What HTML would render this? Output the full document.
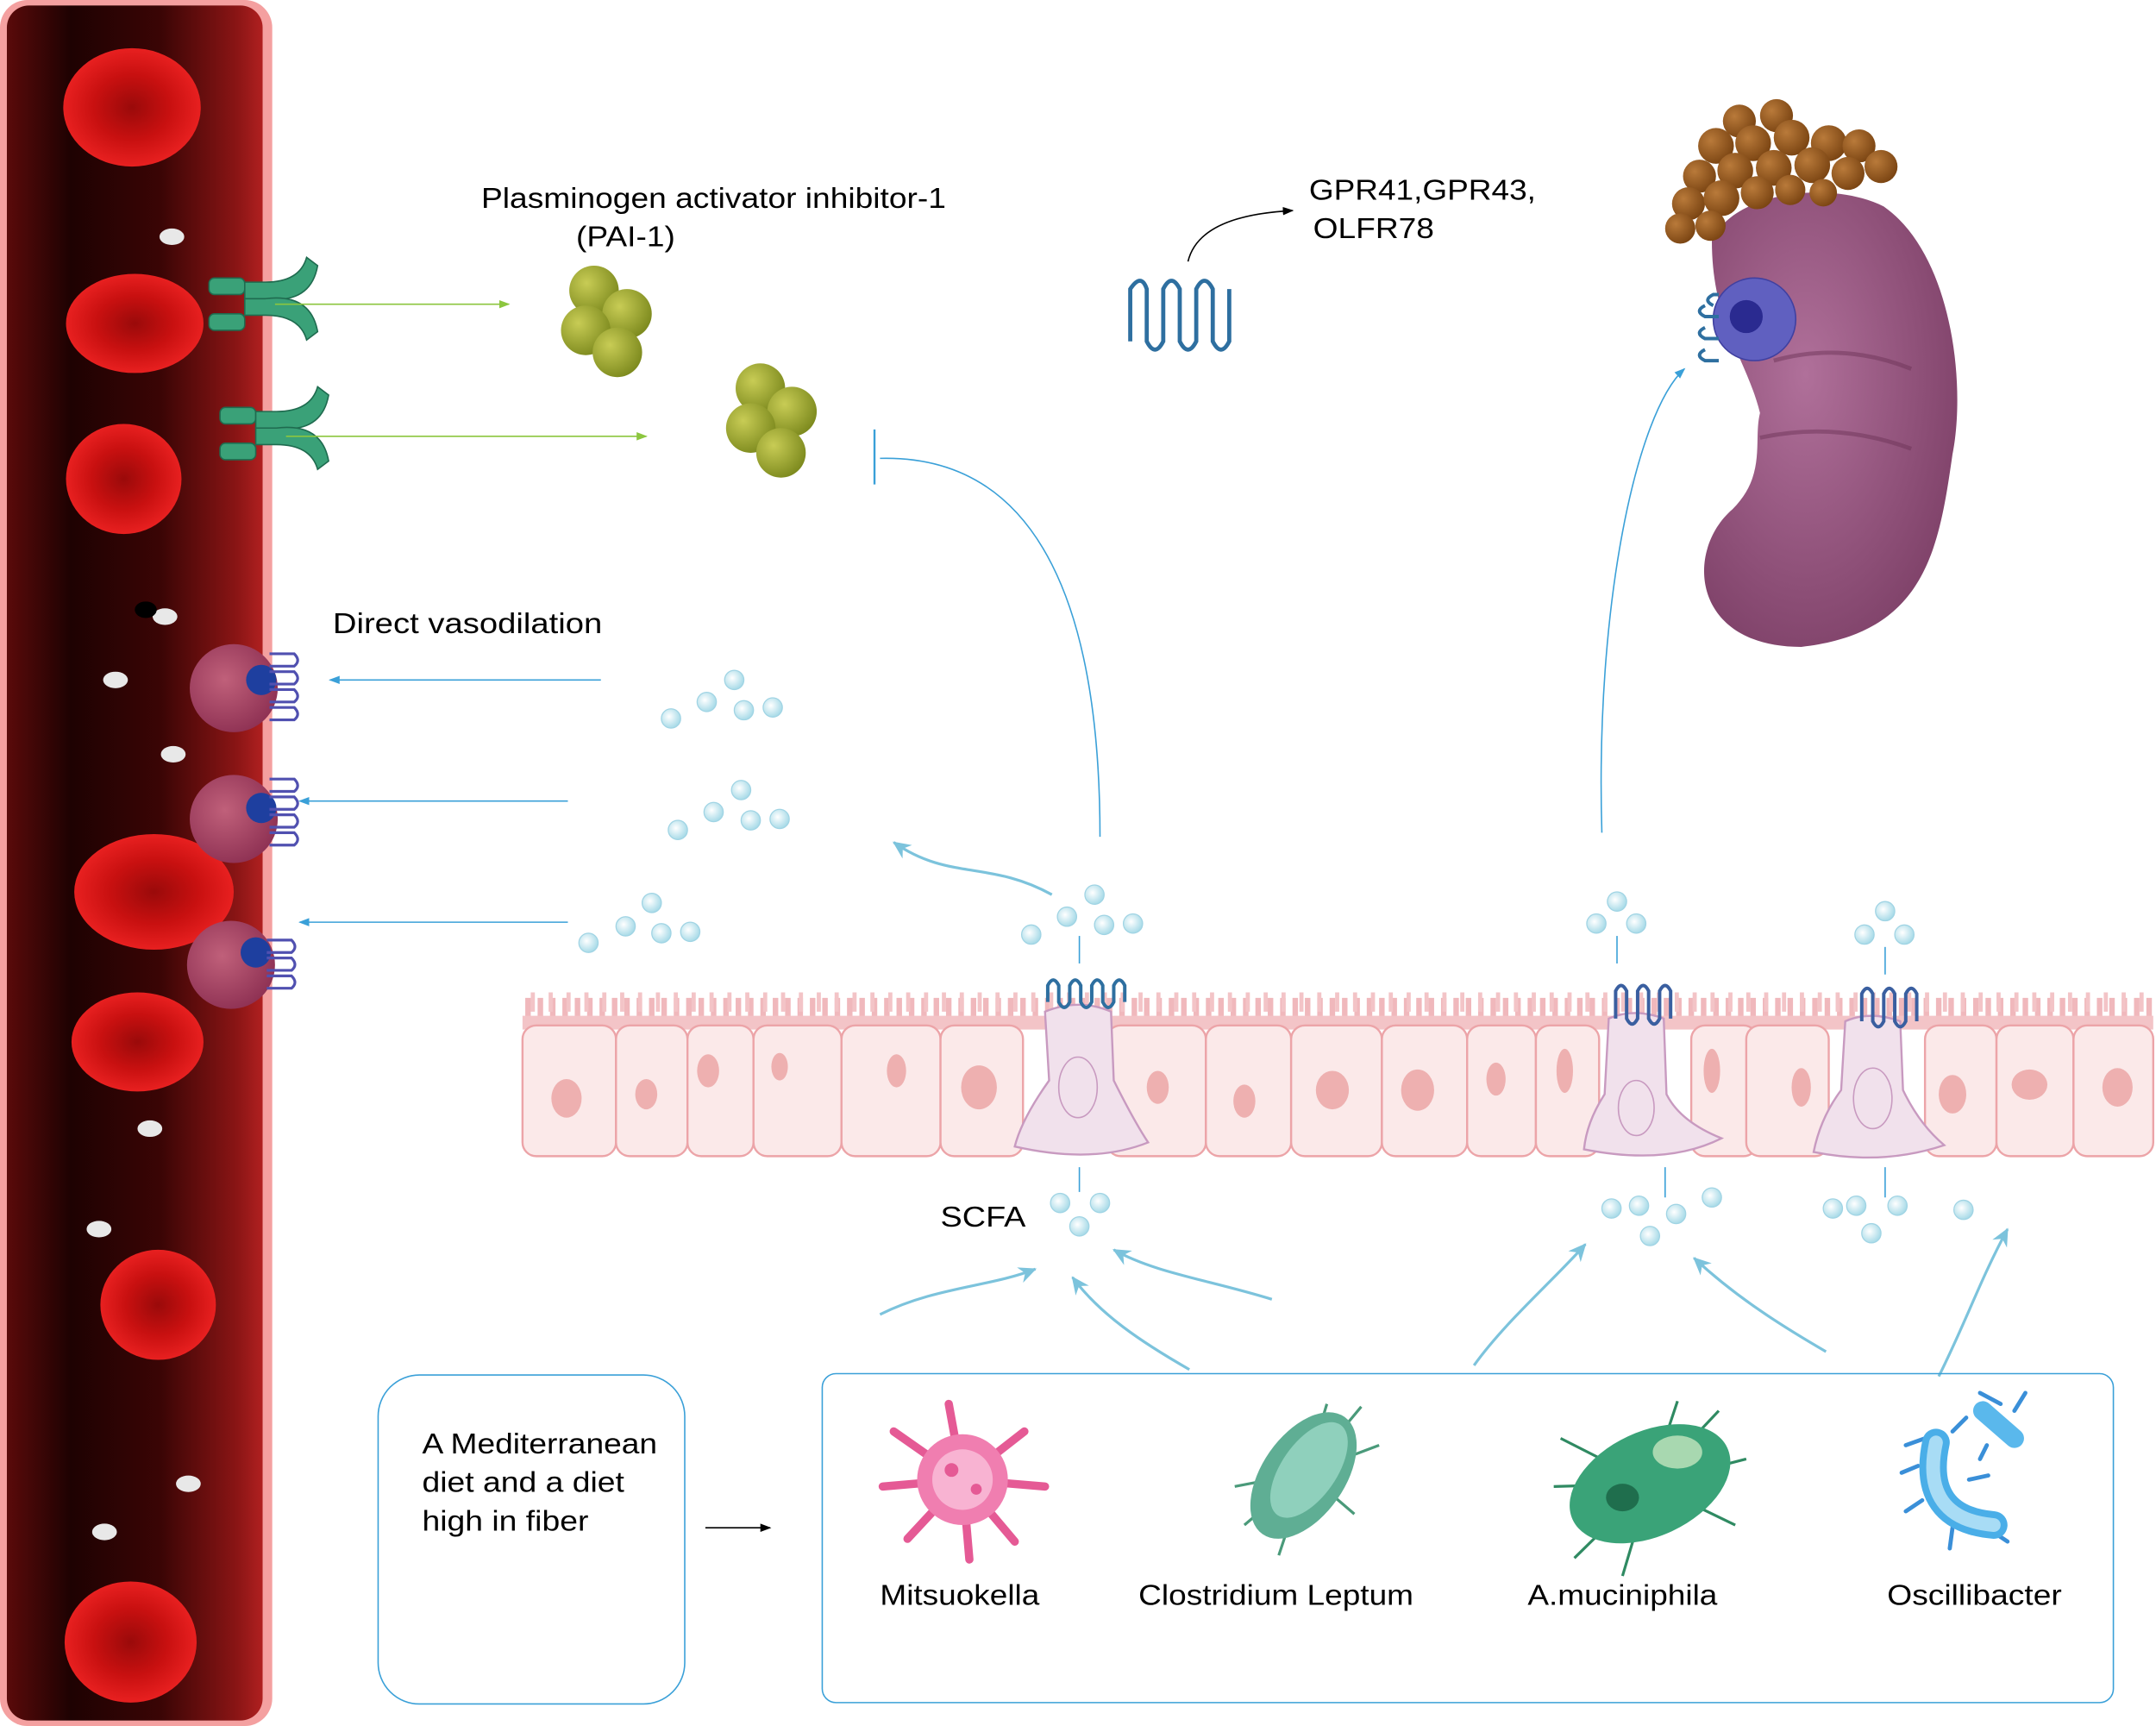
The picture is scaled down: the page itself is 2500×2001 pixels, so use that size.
<!DOCTYPE html>
<html><head><meta charset="utf-8"><style>
html,body{margin:0;padding:0;background:#fff;}
svg{display:block;}
text{font-family:"Liberation Sans",Arial,sans-serif;fill:#000;}
</style></head><body>
<svg width="2500" height="2001" viewBox="0 0 1568 1254" preserveAspectRatio="none" xmlns="http://www.w3.org/2000/svg">
<defs>
<linearGradient id="vessel" x1="0" x2="1" y1="0" y2="0">
<stop offset="0" stop-color="#5a0a0a"/><stop offset="0.25" stop-color="#1e0202"/><stop offset="0.6" stop-color="#3a0505"/><stop offset="0.9" stop-color="#8a1515"/><stop offset="1" stop-color="#b02020"/>
</linearGradient>
<radialGradient id="rbc" cx="0.5" cy="0.5" r="0.5">
<stop offset="0" stop-color="#9a0a0a"/><stop offset="0.55" stop-color="#c81010"/><stop offset="1" stop-color="#e82020"/>
</radialGradient>
<radialGradient id="kid" cx="0.4" cy="0.4" r="0.7">
<stop offset="0" stop-color="#b0709a"/><stop offset="1" stop-color="#7c3f66"/>
</radialGradient>
<radialGradient id="pai" cx="0.35" cy="0.35" r="0.7">
<stop offset="0" stop-color="#c8cc55"/><stop offset="1" stop-color="#7d8a1e"/>
</radialGradient>
<radialGradient id="imm" cx="0.4" cy="0.4" r="0.7">
<stop offset="0" stop-color="#c0607a"/><stop offset="1" stop-color="#8a2d50"/>
</radialGradient>
<radialGradient id="bub" cx="0.4" cy="0.4" r="0.6">
<stop offset="0" stop-color="#ffffff"/><stop offset="1" stop-color="#a9dbe8"/>
</radialGradient>
<radialGradient id="fat" cx="0.35" cy="0.35" r="0.7">
<stop offset="0" stop-color="#b97a3a"/><stop offset="1" stop-color="#7a4412"/>
</radialGradient>
<marker id="ab" markerWidth="8" markerHeight="8" refX="7" refY="4" orient="auto" markerUnits="userSpaceOnUse"><path d="M0,1 L8,4 L0,7 z" fill="#3aa0d8"/></marker>
<marker id="ag" markerWidth="8" markerHeight="8" refX="7" refY="4" orient="auto" markerUnits="userSpaceOnUse"><path d="M0,1 L8,4 L0,7 z" fill="#8cc63f"/></marker>
<marker id="ak" markerWidth="8" markerHeight="8" refX="7" refY="4" orient="auto" markerUnits="userSpaceOnUse"><path d="M0,1 L8,4 L0,7 z" fill="#000"/></marker>
<marker id="al" markerWidth="14" markerHeight="14" refX="12" refY="7" orient="auto" markerUnits="userSpaceOnUse"><path d="M0,1 L13,7 L0,13 L4,7 z" fill="#7cc3dc"/></marker>
</defs>

<!-- blood vessel -->
<rect x="0" y="0" width="198" height="1254" rx="20" fill="#f4a0a0"/>
<rect x="5" y="4" width="186" height="1246" rx="16" fill="url(#vessel)"/>
<g fill="url(#rbc)">
<ellipse cx="96" cy="78" rx="50" ry="43"/>
<ellipse cx="98" cy="235" rx="50" ry="36"/>
<ellipse cx="90" cy="348" rx="42" ry="40"/>
<ellipse cx="112" cy="648" rx="58" ry="42"/>
<ellipse cx="100" cy="757" rx="48" ry="36"/>
<ellipse cx="115" cy="948" rx="42" ry="40"/>
<ellipse cx="95" cy="1193" rx="48" ry="44"/>
</g>
<g fill="#e8e8e8">
<ellipse cx="125" cy="172" rx="9" ry="6"/><ellipse cx="120" cy="448" rx="9" ry="6"/>
<ellipse cx="84" cy="494" rx="9" ry="6"/><ellipse cx="126" cy="548" rx="9" ry="6"/>
<ellipse cx="109" cy="820" rx="9" ry="6"/><ellipse cx="72" cy="893" rx="9" ry="6"/>
<ellipse cx="137" cy="1078" rx="9" ry="6"/><ellipse cx="76" cy="1113" rx="9" ry="6"/>
</g>
<ellipse cx="106" cy="443" rx="8" ry="6" fill="#000"/>

<!-- receptors on vessel -->
<g fill="#3aa178" stroke="#1f6b4f" stroke-width="1">
<rect x="152" y="202" width="26" height="12" rx="4"/><rect x="152" y="228" width="26" height="12" rx="4"/>
<rect x="160" y="296" width="26" height="12" rx="4"/><rect x="160" y="322" width="26" height="12" rx="4"/>
<path d="M178,205 h15 q25,0 30,-18 l8,6 q-5,28 -38,24 h-15 z"/>
<path d="M178,229 h15 q25,0 30,18 l8,-6 q-5,-28 -38,-24 h-15 z" />
<path d="M186,299 h15 q25,0 30,-18 l8,6 q-5,28 -38,24 h-15 z"/>
<path d="M186,323 h15 q25,0 30,18 l8,-6 q-5,-28 -38,-24 h-15 z"/>
</g>
<line x1="200" y1="221" x2="370" y2="221" stroke="#8cc63f" stroke-width="1" marker-end="url(#ag)"/>
<line x1="208" y1="317" x2="470" y2="317" stroke="#8cc63f" stroke-width="1" marker-end="url(#ag)"/>

<!-- PAI-1 -->
<text x="350" y="151" font-size="21" textLength="338" lengthAdjust="spacingAndGlyphs">Plasminogen activator inhibitor-1</text>
<text x="419" y="179" font-size="21" textLength="72" lengthAdjust="spacingAndGlyphs">(PAI-1)</text>
<g fill="url(#pai)">
<circle cx="432" cy="211" r="18"/><circle cx="456" cy="228" r="18"/><circle cx="426" cy="240" r="18"/><circle cx="449" cy="256" r="18"/>
<circle cx="553" cy="282" r="18"/><circle cx="576" cy="299" r="18"/><circle cx="546" cy="311" r="18"/><circle cx="568" cy="329" r="18"/>
</g>
<line x1="636" y1="312" x2="636" y2="352" stroke="#3aa0d8" stroke-width="1.5"/>
<path d="M640,333 C760,330 800,450 800,608" fill="none" stroke="#3aa0d8" stroke-width="1"/>

<!-- GPR -->
<text x="952" y="145" font-size="21" textLength="165" lengthAdjust="spacingAndGlyphs">GPR41,GPR43,</text>
<text x="955" y="173" font-size="21" textLength="88" lengthAdjust="spacingAndGlyphs">OLFR78</text>
<path d="M864,190 C870,165 900,155 940,153" fill="none" stroke="#000" stroke-width="1" marker-end="url(#ak)"/>
<path d="M822,248 L822,210 q8,-12 12,0 L834,248 q6,12 12,0 L846,210 q6,-12 12,0 L858,248 q6,12 12,0 L870,210 q6,-12 12,0 L882,248 q6,12 12,0 L894,210" fill="none" stroke="#2e6fa0" stroke-width="3"/>

<!-- kidney -->
<path d="M1245,175 C1260,140 1330,130 1370,150 C1420,185 1430,280 1420,330 C1410,400 1400,460 1310,470 C1230,470 1225,400 1260,370 C1285,345 1275,320 1280,300 C1270,260 1245,235 1245,175 Z" fill="url(#kid)"/>
<g fill="url(#fat)">
<circle cx="1265" cy="88" r="12"/><circle cx="1292" cy="84" r="12"/><circle cx="1248" cy="106" r="13"/><circle cx="1275" cy="104" r="13"/><circle cx="1303" cy="100" r="13"/><circle cx="1330" cy="104" r="13"/><circle cx="1352" cy="106" r="12"/><circle cx="1368" cy="121" r="12"/>
<circle cx="1236" cy="128" r="12"/><circle cx="1262" cy="124" r="13"/><circle cx="1290" cy="122" r="13"/><circle cx="1318" cy="120" r="13"/><circle cx="1344" cy="126" r="12"/>
<circle cx="1228" cy="148" r="12"/><circle cx="1252" cy="144" r="13"/><circle cx="1278" cy="140" r="12"/><circle cx="1302" cy="138" r="11"/><circle cx="1326" cy="140" r="10"/>
<circle cx="1222" cy="166" r="11"/><circle cx="1244" cy="164" r="11"/>
</g>
<path d="M1290,262 q50,-14 100,6 M1280,318 q55,-12 110,8" fill="none" stroke="#6e3358" stroke-width="3" opacity="0.5"/>
<circle cx="1276" cy="232" r="30" fill="#6060c0" stroke="#4040a0"/>
<circle cx="1270" cy="230" r="12" fill="#2a2a90"/>
<path d="M1250,214 L1246,214 q-8,4 0,8 M1240,222 q-8,4 0,8 L1250,230 M1240,238 q-8,4 0,8 L1250,246 M1240,254 q-8,4 0,8 L1250,262" fill="none" stroke="#2e6fa0" stroke-width="2.5"/>
<path d="M1165,605 C1160,440 1190,300 1225,268" fill="none" stroke="#3aa0d8" stroke-width="1" marker-end="url(#ab)"/>

<!-- direct vasodilation -->
<text x="242" y="460" font-size="21" textLength="196" lengthAdjust="spacingAndGlyphs">Direct  vasodilation</text>
<line x1="437" y1="494" x2="240" y2="494" stroke="#3aa0d8" stroke-width="1" marker-end="url(#ab)"/>
<line x1="413" y1="582" x2="218" y2="582" stroke="#3aa0d8" stroke-width="1" marker-end="url(#ab)"/>
<line x1="413" y1="670" x2="218" y2="670" stroke="#3aa0d8" stroke-width="1" marker-end="url(#ab)"/>
<g>
<circle cx="170" cy="500" r="32" fill="url(#imm)"/><circle cx="190" cy="494" r="11" fill="#1e3f9f"/>
<circle cx="170" cy="595" r="32" fill="url(#imm)"/><circle cx="190" cy="587" r="11" fill="#1e3f9f"/>
<circle cx="168" cy="701" r="32" fill="url(#imm)"/><circle cx="186" cy="692" r="11" fill="#1e3f9f"/>
</g>
<g fill="none" stroke="#5050b0" stroke-width="2">
<path d="M196,475 h18 q5,5 0,9 h-18 M196,488 h18 q5,5 0,9 h-18 M196,501 h18 q5,5 0,9 h-18 M196,514 h18 q5,5 0,9 h-18"/>
<path d="M196,566 h18 q5,5 0,9 h-18 M196,579 h18 q5,5 0,9 h-18 M196,592 h18 q5,5 0,9 h-18 M196,605 h18 q5,5 0,9 h-18"/>
<path d="M194,683 h18 q5,5 0,9 h-18 M194,696 h18 q5,5 0,9 h-18 M194,709 h18 q5,5 0,9 h-18"/>
</g>

<!-- bubbles -->
<g fill="url(#bub)" stroke="#a0d4e4" stroke-width="0.8">
<circle cx="534" cy="494" r="7"/><circle cx="514" cy="510" r="7"/><circle cx="541" cy="516" r="7"/><circle cx="562" cy="514" r="7"/><circle cx="488" cy="522" r="7"/>
<circle cx="539" cy="574" r="7"/><circle cx="519" cy="590" r="7"/><circle cx="546" cy="596" r="7"/><circle cx="567" cy="595" r="7"/><circle cx="493" cy="603" r="7"/>
<circle cx="474" cy="656" r="7"/><circle cx="455" cy="673" r="7"/><circle cx="481" cy="678" r="7"/><circle cx="502" cy="677" r="7"/><circle cx="428" cy="685" r="7"/>
<circle cx="796" cy="650" r="7"/><circle cx="776" cy="666" r="7"/><circle cx="803" cy="672" r="7"/><circle cx="824" cy="671" r="7"/><circle cx="750" cy="679" r="7"/>
<circle cx="1176" cy="655" r="7"/><circle cx="1161" cy="671" r="7"/><circle cx="1190" cy="671" r="7"/>
<circle cx="1371" cy="662" r="7"/><circle cx="1356" cy="679" r="7"/><circle cx="1385" cy="679" r="7"/>
<circle cx="771" cy="874" r="7"/><circle cx="800" cy="874" r="7"/><circle cx="785" cy="891" r="7"/>
<circle cx="1172" cy="878" r="7"/><circle cx="1192" cy="876" r="7"/><circle cx="1219" cy="882" r="7"/><circle cx="1245" cy="870" r="7"/><circle cx="1200" cy="898" r="7"/>
<circle cx="1333" cy="878" r="7"/><circle cx="1350" cy="876" r="7"/><circle cx="1380" cy="876" r="7"/><circle cx="1428" cy="879" r="7"/><circle cx="1361" cy="896" r="7"/>
</g>
<g stroke="#3aa0d8" stroke-width="1">
<line x1="785" y1="680" x2="785" y2="700"/><line x1="1176" y1="680" x2="1176" y2="700"/><line x1="1371" y1="688" x2="1371" y2="708"/>
<line x1="785" y1="848" x2="785" y2="866"/><line x1="1211" y1="848" x2="1211" y2="870"/><line x1="1371" y1="848" x2="1371" y2="870"/>
</g>
<path d="M765,650 C720,625 690,640 650,612" fill="none" stroke="#7cc3dc" stroke-width="2" marker-end="url(#al)"/>

<!-- epithelium -->
<line x1="382" y1="736" x2="1565" y2="736" stroke="#f0b8bc" stroke-width="22" stroke-dasharray="4 5"/>
<line x1="386" y1="728" x2="1565" y2="728" stroke="#f3c4c7" stroke-width="14" stroke-dasharray="3 10"/>
<rect x="380" y="738" width="1186" height="10" fill="#f3c4c7"/>
<g fill="#fbe9e9" stroke="#eca4a8" stroke-width="1.5">
<rect x="380" y="745" width="68" height="95" rx="10"/>
<rect x="448" y="745" width="52" height="95" rx="10"/>
<rect x="500" y="745" width="48" height="95" rx="10"/>
<rect x="548" y="745" width="64" height="95" rx="10"/>
<rect x="612" y="745" width="72" height="95" rx="10"/>
<rect x="684" y="745" width="60" height="95" rx="10"/>
<rect x="805" y="745" width="72" height="95" rx="10"/>
<rect x="877" y="745" width="62" height="95" rx="10"/>
<rect x="939" y="745" width="66" height="95" rx="10"/>
<rect x="1005" y="745" width="62" height="95" rx="10"/>
<rect x="1067" y="745" width="50" height="95" rx="10"/>
<rect x="1117" y="745" width="46" height="95" rx="10"/>
<rect x="1230" y="745" width="48" height="95" rx="10"/>
<rect x="1270" y="745" width="60" height="95" rx="10"/>
<rect x="1400" y="745" width="52" height="95" rx="10"/>
<rect x="1452" y="745" width="56" height="95" rx="10"/>
<rect x="1508" y="745" width="58" height="95" rx="10"/>
</g>
<g fill="#eeb0b0">
<ellipse cx="412" cy="798" rx="11" ry="14"/><ellipse cx="470" cy="795" rx="8" ry="11"/><ellipse cx="515" cy="778" rx="8" ry="12"/>
<ellipse cx="567" cy="775" rx="6" ry="10"/><ellipse cx="652" cy="778" rx="7" ry="12"/><ellipse cx="712" cy="790" rx="13" ry="16"/>
<ellipse cx="842" cy="790" rx="8" ry="12"/><ellipse cx="905" cy="800" rx="8" ry="12"/><ellipse cx="969" cy="792" rx="12" ry="14"/>
<ellipse cx="1031" cy="792" rx="12" ry="15"/><ellipse cx="1088" cy="784" rx="7" ry="12"/><ellipse cx="1138" cy="778" rx="6" ry="16"/>
<ellipse cx="1245" cy="778" rx="6" ry="16"/><ellipse cx="1310" cy="790" rx="7" ry="14"/><ellipse cx="1420" cy="795" rx="10" ry="14"/>
<ellipse cx="1476" cy="788" rx="13" ry="11"/><ellipse cx="1540" cy="790" rx="11" ry="14"/>
</g>
<g fill="#f1e1ec" stroke="#c89ac0" stroke-width="1.5">
<path d="M760,735 q25,-10 48,0 l2,50 q15,30 25,45 q-40,16 -97,3 q5,-20 25,-48 z"/>
<path d="M1170,740 q18,-8 40,0 l2,55 q10,20 40,32 q-40,20 -100,8 q2,-20 15,-40 z"/>
<path d="M1342,742 q18,-8 40,0 l2,50 q12,25 30,40 q-45,15 -95,5 q5,-25 20,-45 z"/>
</g>
<g fill="none" stroke="#c89ac0" stroke-width="1">
<ellipse cx="784" cy="790" rx="14" ry="22"/><ellipse cx="1190" cy="805" rx="13" ry="20"/><ellipse cx="1362" cy="798" rx="14" ry="22"/>
</g>
<g fill="none" stroke-width="2.5">
<path d="M762,728 v-12 q4,-8 8,0 v12 q4,8 8,0 v-12 q4,-8 8,0 v12 q4,8 8,0 v-12 q4,-8 8,0 v12 q4,8 8,0 v-12 q4,-8 8,0 v12" stroke="#2e6fa0"/>
<path d="M1175,740 v-20 q4,-8 8,0 v20 q4,8 8,0 v-20 q4,-8 8,0 v20 q4,8 8,0 v-20 q4,-8 8,0 v20" stroke="#3a5fa0"/>
<path d="M1354,742 v-20 q4,-8 8,0 v20 q4,8 8,0 v-20 q4,-8 8,0 v20 q4,8 8,0 v-20 q4,-8 8,0 v20" stroke="#3a5fa0"/>
</g>

<text x="684" y="891" font-size="21" textLength="62" lengthAdjust="spacingAndGlyphs">SCFA</text>

<!-- light blue arrows -->
<g fill="none" stroke="#7cc3dc" stroke-width="2">
<path d="M640,955 C680,935 720,935 753,922" marker-end="url(#al)"/>
<path d="M865,995 C830,975 800,955 780,928" marker-end="url(#al)"/>
<path d="M925,944 C880,930 840,925 810,908" marker-end="url(#al)"/>
<path d="M1072,992 C1095,960 1130,930 1153,904" marker-end="url(#al)"/>
<path d="M1328,982 C1290,960 1260,940 1232,914" marker-end="url(#al)"/>
<path d="M1410,1000 C1430,960 1440,930 1460,893" marker-end="url(#al)"/>
</g>

<!-- diet box -->
<rect x="275" y="999" width="223" height="239" rx="30" fill="none" stroke="#3aa0d8" stroke-width="1"/>
<text x="307" y="1056" font-size="21" textLength="171" lengthAdjust="spacingAndGlyphs">A Mediterranean</text>
<text x="307" y="1084" font-size="21" textLength="147" lengthAdjust="spacingAndGlyphs">diet and a diet</text>
<text x="307" y="1112" font-size="21" textLength="121" lengthAdjust="spacingAndGlyphs">high in fiber</text>
<line x1="513" y1="1110" x2="560" y2="1110" stroke="#000" stroke-width="1" marker-end="url(#ak)"/>

<!-- bacteria box -->
<rect x="598" y="998" width="939" height="239" rx="10" fill="none" stroke="#3aa0d8" stroke-width="1"/>
<g>
<g stroke="#e55a95" stroke-width="6" stroke-linecap="round">
<line x1="700" y1="1075" x2="690" y2="1020"/><line x1="700" y1="1075" x2="745" y2="1040"/><line x1="700" y1="1075" x2="760" y2="1080"/>
<line x1="700" y1="1075" x2="738" y2="1120"/><line x1="700" y1="1075" x2="705" y2="1133"/><line x1="700" y1="1075" x2="660" y2="1118"/>
<line x1="700" y1="1075" x2="642" y2="1080"/><line x1="700" y1="1075" x2="650" y2="1040"/>
</g>
<circle cx="700" cy="1075" r="33" fill="#f07eb0"/><circle cx="700" cy="1075" r="22" fill="#f8b3d2"/>
<circle cx="692" cy="1068" r="5" fill="#e55a95"/><circle cx="710" cy="1082" r="4" fill="#e55a95"/>
</g>
<g stroke="#4a9a7a" stroke-width="2">
<line x1="950" y1="1070" x2="898" y2="1080"/><line x1="950" y1="1070" x2="1003" y2="1050"/><line x1="950" y1="1070" x2="930" y2="1130"/><line x1="950" y1="1070" x2="990" y2="1022"/><line x1="950" y1="1070" x2="905" y2="1108"/><line x1="950" y1="1070" x2="965" y2="1020"/><line x1="950" y1="1070" x2="985" y2="1100"/>
</g>
<ellipse cx="948" cy="1072" rx="30" ry="52" transform="rotate(35 948 1072)" fill="#5fae94"/>
<ellipse cx="952" cy="1068" rx="20" ry="40" transform="rotate(35 952 1068)" fill="#8fd0bc"/>
<g stroke="#2f8a62" stroke-width="2">
<line x1="1200" y1="1078" x2="1130" y2="1080"/><line x1="1200" y1="1078" x2="1270" y2="1060"/><line x1="1200" y1="1078" x2="1145" y2="1132"/><line x1="1200" y1="1078" x2="1250" y2="1025"/><line x1="1200" y1="1078" x2="1180" y2="1145"/><line x1="1200" y1="1078" x2="1220" y2="1018"/><line x1="1200" y1="1078" x2="1262" y2="1108"/><line x1="1200" y1="1078" x2="1135" y2="1045"/>
</g>
<ellipse cx="1200" cy="1078" rx="62" ry="38" transform="rotate(-25 1200 1078)" fill="#3aa378"/>
<ellipse cx="1180" cy="1088" rx="12" ry="10" fill="#1f6e4d"/><ellipse cx="1220" cy="1055" rx="18" ry="12" fill="#a8d8b0"/>
<g stroke="#3a8fd8" stroke-width="3" stroke-linecap="round">
<line x1="1400" y1="1045" x2="1386" y2="1050"/><line x1="1395" y1="1065" x2="1383" y2="1070"/><line x1="1398" y1="1090" x2="1386" y2="1098"/><line x1="1420" y1="1110" x2="1418" y2="1125"/><line x1="1445" y1="1110" x2="1460" y2="1120"/><line x1="1420" y1="1040" x2="1430" y2="1030"/><line x1="1432" y1="1075" x2="1446" y2="1072"/>
<line x1="1455" y1="1020" x2="1440" y2="1012"/><line x1="1465" y1="1025" x2="1473" y2="1012"/><line x1="1445" y1="1050" x2="1440" y2="1060"/>
</g>
<path d="M1408,1048 C1400,1085 1415,1105 1450,1108" fill="none" stroke="#4aaee8" stroke-width="20" stroke-linecap="round"/>
<path d="M1408,1048 C1400,1085 1415,1105 1450,1108" fill="none" stroke="#a8dcf5" stroke-width="10" stroke-linecap="round"/>
<line x1="1442" y1="1025" x2="1465" y2="1045" stroke="#5ab8ec" stroke-width="14" stroke-linecap="round"/>
<text x="698" y="1166" font-size="21" text-anchor="middle" textLength="116" lengthAdjust="spacingAndGlyphs">Mitsuokella</text>
<text x="928" y="1166" font-size="21" text-anchor="middle" textLength="200" lengthAdjust="spacingAndGlyphs">Clostridium Leptum</text>
<text x="1180" y="1166" font-size="21" text-anchor="middle" textLength="138" lengthAdjust="spacingAndGlyphs">A.muciniphila</text>
<text x="1436" y="1166" font-size="21" text-anchor="middle" textLength="127" lengthAdjust="spacingAndGlyphs">Oscillibacter</text>
</svg>
</body></html>
